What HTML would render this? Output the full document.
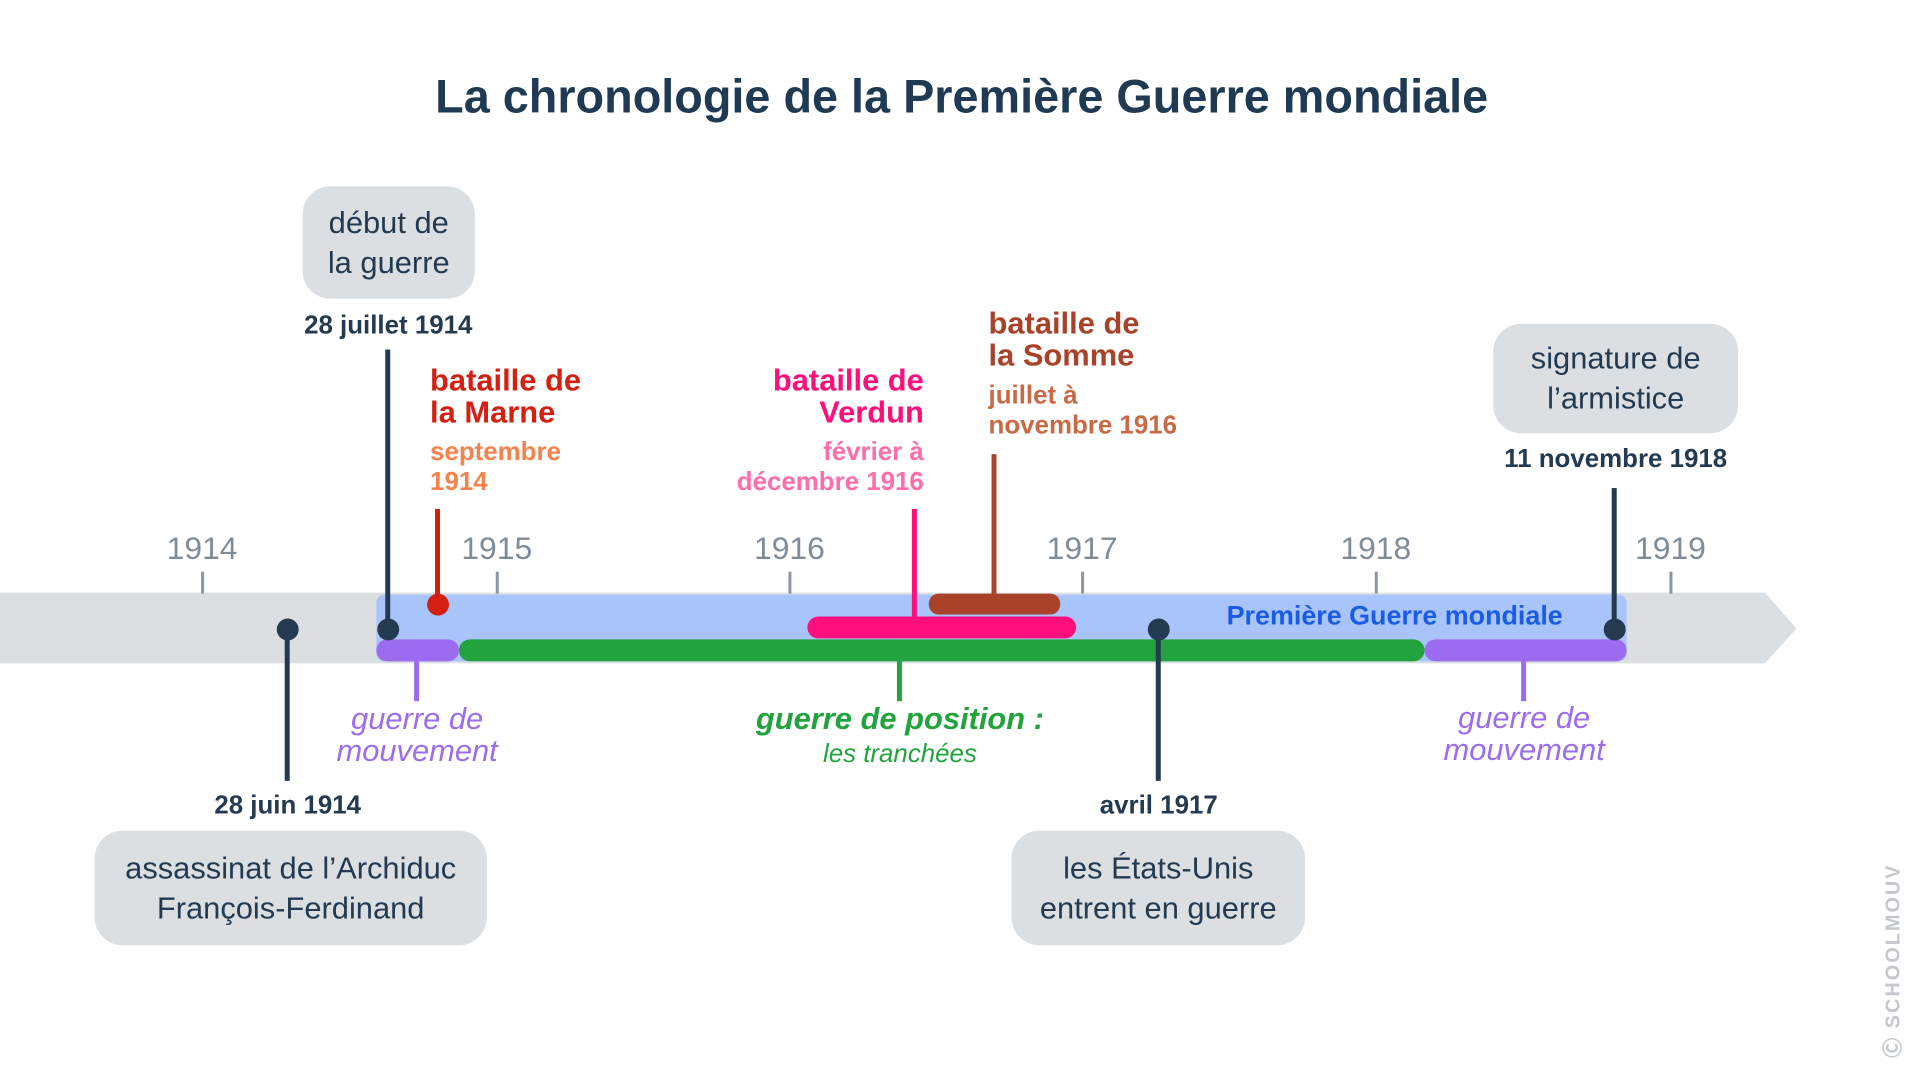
<!DOCTYPE html>
<html><head><meta charset="utf-8"><style>
body{margin:0;width:1921px;height:1081px;background:#fff;position:relative;overflow:hidden;font-family:"Liberation Sans",sans-serif}
#w{position:absolute;left:0;top:0;width:1921px;height:1081px;transform:scale(0.9955,0.996);transform-origin:0 0}
.a{position:absolute;white-space:nowrap}
.c{transform:translateX(-50%);text-align:center}
.box{position:absolute;background:#dcdfe2;border-radius:28px;color:#233a50;font-size:31px;text-align:center;display:flex;align-items:center;justify-content:center;line-height:40px}
.ln{position:absolute;width:5px}
.dt{position:absolute;width:22px;height:22px;border-radius:50%;background:#233a50}
.yr{position:absolute;transform:translateX(-50%);color:#7f8c99;font-size:32px;top:532px}
.tk{position:absolute;width:3px;background:#8b97a3;top:574px;height:22px}
.dk{color:#233a50;font-weight:bold;font-size:26px}
</style></head><body><div id="w">
<div class="a c" style="left:966px;top:69px;font-size:47px;font-weight:bold;color:#1f3a52">La chronologie de la Première Guerre mondiale</div>

<svg class="a" style="left:0;top:0" width="1921" height="1081">
<path d="M0 597 H1772 L1802 631 L1772 664 H0 Z" fill="#dcdfe2" stroke="#dcdfe2" stroke-linejoin="round" stroke-width="4"/>
<rect x="378" y="597" width="1256" height="67" rx="8" fill="#a9c4fb"/>
<rect x="378" y="642" width="83" height="22" rx="11" fill="#9b6cf0"/>
<rect x="461" y="642" width="970" height="22" rx="11" fill="#22a33e"/>
<rect x="1431" y="642" width="203" height="22" rx="11" fill="#9b6cf0"/>
<rect x="811" y="619" width="270" height="22" rx="11" fill="#ff0f7b"/>
<rect x="933" y="596" width="132" height="21" rx="10" fill="#a8432a"/>
</svg>

<div class="yr" style="left:203px">1914</div><div class="tk" style="left:202px"></div>
<div class="yr" style="left:499px">1915</div><div class="tk" style="left:498px"></div>
<div class="yr" style="left:793px">1916</div><div class="tk" style="left:792px"></div>
<div class="yr" style="left:1087px">1917</div><div class="tk" style="left:1086px"></div>
<div class="yr" style="left:1382px">1918</div><div class="tk" style="left:1381px"></div>
<div class="yr" style="left:1678px">1919</div><div class="tk" style="left:1677px"></div>

<div class="ln" style="left:387px;top:351px;height:281px;background:#233a50"></div>
<div class="ln" style="left:286px;top:632px;height:152px;background:#233a50"></div>
<div class="ln" style="left:1161px;top:632px;height:152px;background:#233a50"></div>
<div class="ln" style="left:1619px;top:490px;height:142px;background:#233a50"></div>
<div class="ln" style="left:437px;top:511px;height:96px;background:#d42010"></div>
<div class="ln" style="left:916px;top:511px;height:108px;background:#ff0f7b"></div>
<div class="ln" style="left:996px;top:456px;height:140px;background:#a8432a"></div>
<div class="ln" style="left:416px;top:664px;height:40px;background:#9b6cf0"></div>
<div class="ln" style="left:901px;top:664px;height:40px;background:#22a33e"></div>
<div class="ln" style="left:1528px;top:664px;height:40px;background:#9b6cf0"></div>

<div class="dt" style="left:278px;top:621px"></div>
<div class="dt" style="left:379px;top:621px"></div>
<div class="dt" style="left:1153px;top:621px"></div>
<div class="dt" style="left:1611px;top:621px"></div>
<div class="dt" style="left:429px;top:596px;background:#d42010"></div>

<div class="a c" style="left:1401px;top:603px;font-size:27px;font-weight:bold;color:#1a5ce6">Première Guerre mondiale</div>

<div class="box" style="left:304px;top:187px;width:173px;height:113px">début de<br>la guerre</div>
<div class="a c dk" style="left:390px;top:311px">28 juillet 1914</div>
<div class="box" style="left:1500px;top:325px;width:246px;height:110px">signature de<br>l’armistice</div>
<div class="a c dk" style="left:1623px;top:445px">11 novembre 1918</div>
<div class="a c dk" style="left:289px;top:793px">28 juin 1914</div>
<div class="box" style="left:95px;top:834px;width:394px;height:115px">assassinat de l’Archiduc<br>François-Ferdinand</div>
<div class="a c dk" style="left:1164px;top:793px">avril 1917</div>
<div class="box" style="left:1016px;top:834px;width:295px;height:115px">les États-Unis<br>entrent en guerre</div>

<div class="a" style="left:432px;top:366px;font-size:31px;font-weight:bold;color:#d42010;line-height:32px">bataille de<br>la Marne</div>
<div class="a" style="left:432px;top:438px;font-size:26px;font-weight:bold;color:#f5834d;line-height:30px">septembre<br>1914</div>
<div class="a" style="right:993px;top:366px;font-size:31px;font-weight:bold;color:#ff0f7b;line-height:32px;text-align:right">bataille de<br>Verdun</div>
<div class="a" style="right:993px;top:438px;font-size:26px;font-weight:bold;color:#ff6eab;line-height:30px;text-align:right">février à<br>décembre 1916</div>
<div class="a" style="left:993px;top:309px;font-size:31px;font-weight:bold;color:#a8432a;line-height:32px">bataille de<br>la Somme</div>
<div class="a" style="left:993px;top:381px;font-size:26px;font-weight:bold;color:#c96a47;line-height:30px">juillet à<br>novembre 1916</div>

<div class="a c" style="left:419px;top:706px;font-size:31px;font-style:italic;color:#9b6cf0;line-height:32px">guerre de<br>mouvement</div>
<div class="a c" style="left:1531px;top:705px;font-size:31px;font-style:italic;color:#9b6cf0;line-height:32px">guerre de<br>mouvement</div>
<div class="a c" style="left:904px;top:704px;font-size:31px;font-style:italic;font-weight:bold;color:#22a33e">guerre de position :</div>
<div class="a c" style="left:904px;top:741px;font-size:26px;font-style:italic;color:#22a33e">les tranchées</div>

<div class="a" style="left:1885px;top:1062px;transform:rotate(-90deg);transform-origin:0 0;font-size:20px;font-weight:bold;color:#c4c8cc;letter-spacing:2px">Ⓒ SCHOOLMOUV</div>
</div></body></html>
